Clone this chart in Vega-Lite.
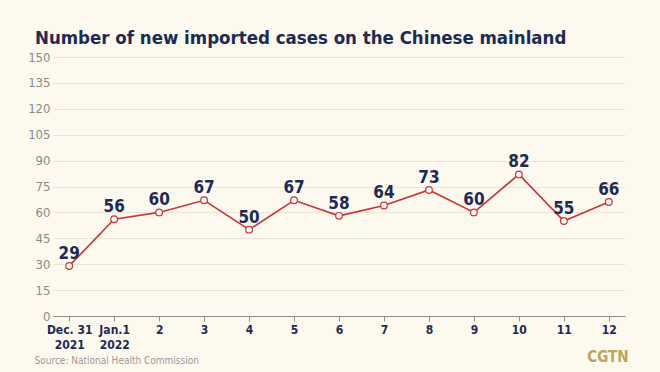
{
  "$schema": "https://vega.github.io/schema/vega-lite/v6.json",
  "width": 572,
  "height": 259,
  "autosize": {"type": "none"},
  "padding": {"left": 53, "top": 57, "right": 35, "bottom": 56},
  "background": "#fdf9ee",
  "title": {
    "text": "Number of new imported cases on the Chinese mainland",
    "anchor": "start",
    "frame": "group",
    "dx": -18,
    "offset": 4,
    "font": "DejaVu Sans Condensed, Roboto, sans-serif",
    "fontSize": 18.5,
    "fontWeight": "bold",
    "color": "#1c2b55"
  },
  "config": {
    "view": {"stroke": null},
    "font": "DejaVu Sans Condensed, Roboto, sans-serif"
  },
  "data": {
    "values": [
      {"day": "Dec. 31|2021", "cases": 29},
      {"day": "Jan.1|2022", "cases": 56},
      {"day": "2", "cases": 60},
      {"day": "3", "cases": 67},
      {"day": "4", "cases": 50},
      {"day": "5", "cases": 67},
      {"day": "6", "cases": 58},
      {"day": "7", "cases": 64},
      {"day": "8", "cases": 73},
      {"day": "9", "cases": 60},
      {"day": "10", "cases": 82},
      {"day": "11", "cases": 55},
      {"day": "12", "cases": 66}
    ]
  },
  "encoding": {
    "x": {
      "field": "day",
      "type": "ordinal",
      "sort": null,
      "scale": {"type": "point", "padding": 0.36},
      "axis": {
        "labelAngle": 0,
        "labelExpr": "split(datum.label, '|')",
        "labelFont": "DejaVu Sans Condensed, Roboto, sans-serif",
        "labelFontSize": 12,
        "labelFontWeight": "bold",
        "labelColor": "#1c2b55",
        "labelPadding": 3,
        "labelBaseline": "top",
        "labelLineHeight": 15,
        "domainColor": "#8c8c8c",
        "tickColor": "#8c8c8c",
        "tickSize": 5,
        "grid": false,
        "title": "Source: National Health Commission",
        "titleAnchor": "start",
        "titleAlign": "left",
        "titleX": -19,
        "titleY": 47,
        "titleBaseline": "alphabetic",
        "titleFont": "DejaVu Sans Condensed, Roboto, sans-serif",
        "titleFontSize": 10,
        "titleFontWeight": "normal",
        "titleColor": "#9a9a9a"
      }
    },
    "y": {
      "field": "cases",
      "type": "quantitative",
      "scale": {"domain": [0, 150]}
    }
  },
  "layer": [
    {
      "mark": {"type": "line", "color": "#cc3336", "strokeWidth": 1.6},
      "encoding": {
        "y": {
          "field": "cases",
          "type": "quantitative",
          "axis": {
            "values": [0, 15, 30, 45, 60, 75, 90, 105, 120, 135, 150],
            "domain": false,
            "ticks": false,
            "labelFont": "DejaVu Sans Condensed, Roboto, sans-serif",
            "labelFontSize": 13,
            "labelColor": "#8a8a8a",
            "labelPadding": 3,
            "gridColor": "#ebe6d8",
            "gridWidth": 1,
            "title": null
          }
        }
      }
    },
    {
      "mark": {"type": "point", "filled": true, "fill": "#ffffff", "stroke": "#cc3336", "strokeWidth": 1.2, "size": 45, "opacity": 1},
      "encoding": {
        "y": {
          "field": "cases",
          "type": "quantitative",
          "axis": {
            "orient": "right",
            "grid": false,
            "labels": false,
            "ticks": false,
            "domain": false,
            "title": "CGTN",
            "titleAngle": 0,
            "titleAlign": "right",
            "titleBaseline": "alphabetic",
            "titleX": 3,
            "titleY": 304,
            "titleFont": "DejaVu Sans Condensed, Roboto, sans-serif",
            "titleFontSize": 15,
            "titleFontWeight": "bold",
            "titleColor": "#bca45c"
          }
        }
      }
    },
    {
      "mark": {"type": "text", "baseline": "alphabetic", "dy": -7, "font": "DejaVu Sans Condensed, Roboto, sans-serif", "fontSize": 17, "fontWeight": "bold", "color": "#1c2b55"},
      "encoding": {
        "y": {"field": "cases", "type": "quantitative", "axis": null},
        "text": {"field": "cases", "type": "quantitative"}
      }
    }
  ],
  "resolve": {"axis": {"y": "independent"}}
}
